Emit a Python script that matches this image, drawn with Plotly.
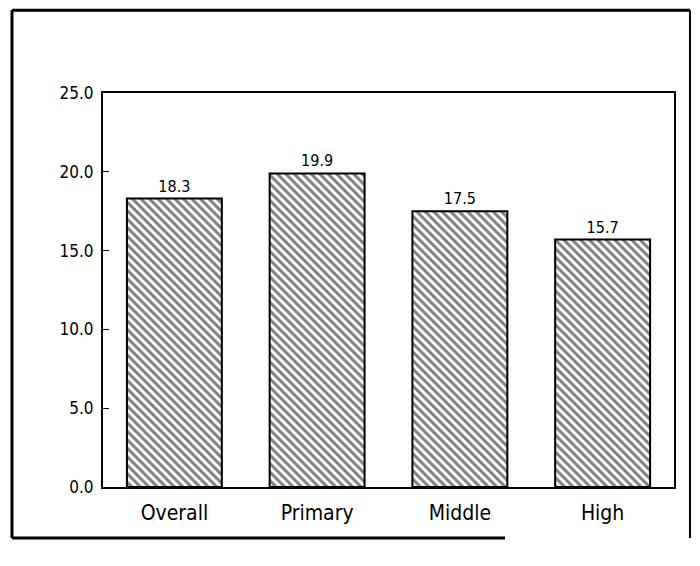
import plotly.graph_objects as go

categories = ["Overall", "Primary", "Middle", "High"]
values = [18.3, 19.9, 17.5, 15.7]
value_labels = ["18.3", "19.9", "17.5", "15.7"]
tick_vals = [0, 5, 10, 15, 20, 25]
tick_text = ["0.0", "5.0", "10.0", "15.0", "20.0", "25.0"]

FONT = "DejaVu Sans Condensed, Liberation Sans Narrow, Roboto, sans-serif"

fig = go.Figure(go.Bar(
    x=categories, y=values,
    text=value_labels, textposition="outside",
    textfont=dict(size=16, color="black", family=FONT),
    cliponaxis=False,
    marker=dict(color="white",
                line=dict(color="black", width=2),
                pattern=dict(shape="\\", fgcolor="black", bgcolor="white",
                             size=6, solidity=0.5, fillmode="overlay")),
    width=0.665,
))

fig.update_layout(
    width=684, height=550,
    margin=dict(l=95, r=18, t=85, b=71),
    paper_bgcolor="white", plot_bgcolor="white",
    showlegend=False,
    font=dict(family=FONT, color="black"),
    bargap=0.335,
)
fig.update_yaxes(range=[0, 25], tickvals=tick_vals, ticktext=tick_text,
                 showgrid=False, zeroline=False, showline=True, linecolor="black",
                 linewidth=2, mirror=True, ticks="inside", ticklen=6,
                 tickcolor="black", tickfont=dict(size=17, family=FONT),
                 ticklabelstandoff=4)
fig.update_xaxes(showgrid=False, showline=True, linecolor="black", linewidth=2,
                 mirror=True, ticks="", tickfont=dict(size=21, family=FONT),
                 ticklabelstandoff=6)

# outer frame
lines = [
    (-0.1594, -0.1294, -0.1594, 1.21, 3),
    (-0.1594, 1.21, 1.028, 1.21, 3),
    (1.028, 1.21, 1.028, -0.1294, 2),
    (-0.1594, -0.1294, 0.7040, -0.1294, 3),
]
for x0, y0, x1, y1, w in lines:
    fig.add_shape(type="line", xref="paper", yref="paper", x0=x0, y0=y0, x1=x1, y1=y1,
                  line=dict(color="black", width=w))

fig.write_html("out.html")
